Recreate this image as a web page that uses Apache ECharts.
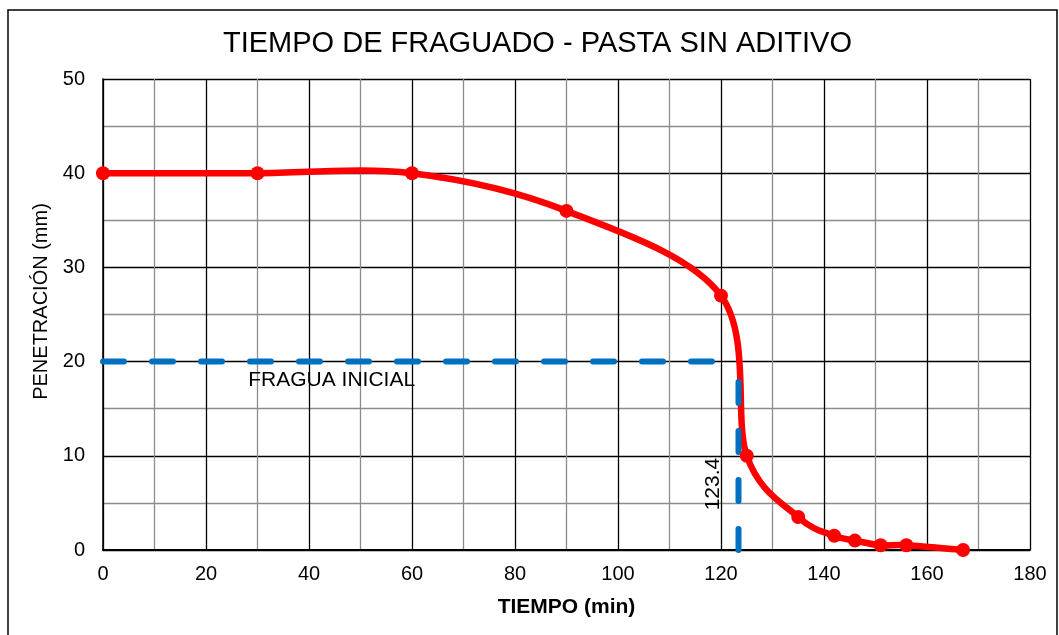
<!DOCTYPE html>
<html>
<head>
<meta charset="utf-8">
<script src="https://cdn.jsdelivr.net/npm/echarts@6/dist/echarts.min.js"></script>
<style>
  html, body { margin: 0; padding: 0; background: #fff; }
  #chart { width: 1059px; height: 635px; }
</style>
</head>
<body>
<div id="chart"></div>
<script>
// datos del ensayo (Vicat)
var tiempo = [0, 30, 60, 90, 120, 125, 135, 142, 146, 151, 156, 167];
var penetracion = [40, 40, 40, 36, 27, 10, 3.5, 1.5, 1, 0.5, 0.5, 0];
var fraguaPenetracion = 20;
var fraguaInicial = 123.4;
var xTicks = [0, 20, 40, 60, 80, 100, 120, 140, 160, 180];
var yTicks = [0, 10, 20, 30, 40, 50];

var curva = tiempo.map(function (t, i) { return [t, penetracion[i]]; });

var chart = echarts.init(document.getElementById('chart'));

// linea suavizada tipo Excel (Catmull-Rom) en pixeles
function renderCurva(params, api) {
    if (params.dataIndex !== 0) return null;
    var pts = curva.map(function (p) { return api.coord(p); });
    var n = pts.length;
    var children = [];
    for (var i = 0; i < n - 1; i++) {
        var p0 = pts[Math.max(i - 1, 0)];
        var p1 = pts[i];
        var p2 = pts[i + 1];
        var p3 = pts[Math.min(i + 2, n - 1)];
        children.push({
            type: 'bezierCurve',
            shape: {
                x1: p1[0], y1: p1[1],
                x2: p2[0], y2: p2[1],
                cpx1: p1[0] + (p2[0] - p0[0]) / 6,
                cpy1: p1[1] + (p2[1] - p0[1]) / 6,
                cpx2: p2[0] - (p3[0] - p1[0]) / 6,
                cpy2: p2[1] - (p3[1] - p1[1]) / 6
            },
            style: { stroke: '#FF0000', lineWidth: 6.5, fill: null, lineCap: 'round', lineJoin: 'round' }
        });
    }
    return { type: 'group', children: children };
}

var etiquetas = [
    [28.2, 18.05, 'FRAGUA INICIAL', 0],
    [118.4, 7.0, String(fraguaInicial), 90]
];

function renderEtiqueta(params, api) {
    var e = etiquetas[params.dataIndex];
    var p = api.coord([e[0], e[1]]);
    return {
        type: 'text',
        x: p[0],
        y: p[1],
        rotation: e[3] * Math.PI / 180,
        style: {
            text: e[2],
            fill: '#000',
            font: '21px "Liberation Sans", Arial, sans-serif',
            align: e[3] ? 'center' : 'left',
            verticalAlign: 'middle'
        }
    };
}

var option = {
    animation: false,
    backgroundColor: '#fff',
    textStyle: { fontFamily: 'Liberation Sans, Arial, sans-serif' },
    title: {
        text: 'TIEMPO DE FRAGUADO - PASTA SIN ADITIVO',
        left: 218,
        top: 24,
        textStyle: { fontSize: 29, fontWeight: 'normal', color: '#000' }
    },
    graphic: [{
        type: 'rect',
        shape: { x: 8, y: 10, width: 1049, height: 640 },
        style: { fill: 'none', stroke: '#000', lineWidth: 1.5 },
        silent: true
    }],
    grid: { left: 103, right: 29, top: 79, bottom: 85 },
    xAxis: {
        type: 'value',
        min: xTicks[0],
        max: xTicks[xTicks.length - 1],
        interval: 20,
        name: 'TIEMPO (min)',
        nameLocation: 'middle',
        nameGap: 47,
        nameTextStyle: { fontSize: 21, fontWeight: 'bold', color: '#000' },
        axisLine: { show: true, lineStyle: { color: '#000', width: 2 } },
        axisTick: { show: false },
        axisLabel: { fontSize: 20, color: '#000', margin: 14 },
        splitLine: { show: true, lineStyle: { color: '#000', width: 1.3 } },
        minorTick: { show: false, splitNumber: 2 },
        minorSplitLine: { show: true, lineStyle: { color: '#8c8c8c', width: 1.3 } }
    },
    yAxis: {
        type: 'value',
        min: yTicks[0],
        max: yTicks[yTicks.length - 1],
        interval: 10,
        name: 'PENETRACIÓN (mm)',
        nameLocation: 'middle',
        nameGap: 49,
        nameTextStyle: { fontSize: 20, color: '#000', padding: [0, 0, 0, 26] },
        axisLine: { show: true, lineStyle: { color: '#000', width: 1.5 } },
        axisTick: { show: false },
        axisLabel: { fontSize: 20, color: '#000', margin: 18 },
        splitLine: { show: true, lineStyle: { color: '#000', width: 1.3 } },
        minorTick: { show: false, splitNumber: 2 },
        minorSplitLine: { show: true, lineStyle: { color: '#8c8c8c', width: 1.3 } }
    },
    series: [
        {
            name: 'penetracion curva',
            type: 'custom',
            data: curva,
            renderItem: renderCurva,
            silent: true,
            z: 3
        },
        {
            name: 'fragua horizontal',
            type: 'line',
            data: [[0, fraguaPenetracion], [fraguaInicial, fraguaPenetracion]],
            symbol: 'none',
            lineStyle: { color: '#0070C0', width: 6, type: [21, 28], cap: 'round' },
            z: 4
        },
        {
            name: 'fragua vertical',
            type: 'line',
            data: [[fraguaInicial, 0], [fraguaInicial, fraguaPenetracion]],
            symbol: 'none',
            lineStyle: { color: '#0070C0', width: 6, type: [21, 28], cap: 'round' },
            z: 4
        },
        {
            name: 'penetracion',
            type: 'scatter',
            data: curva,
            symbol: 'circle',
            symbolSize: 14,
            itemStyle: { color: '#FF0000', opacity: 1 },
            z: 5
        },
        {
            name: 'etiquetas',
            type: 'custom',
            data: etiquetas.map(function (e) { return [e[0], e[1]]; }),
            renderItem: renderEtiqueta,
            silent: true,
            z: 6
        }
    ]
};

chart.setOption(option);
</script>
</body>
</html>
